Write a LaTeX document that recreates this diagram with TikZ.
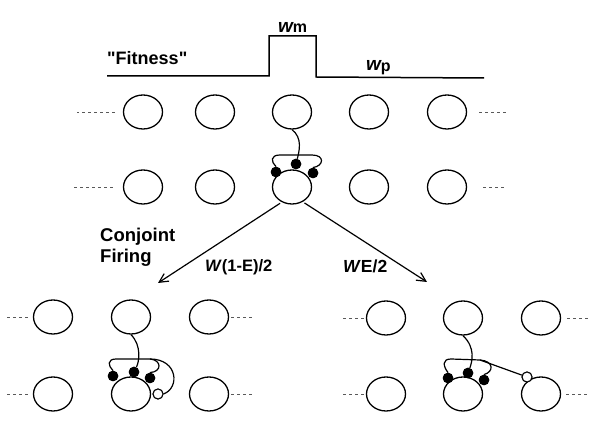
\documentclass[tikz,border=0pt]{standalone}
\usepackage{fontspec}
\setmainfont{Liberation Sans}
\newfontfamily\qfont{Liberation Sans}
\usetikzlibrary{shapes.geometric,arrows.meta}
\begin{document}
\begin{tikzpicture}[x=1pt,y=-1pt,
 cell/.style={draw,ellipse,line width=1.3pt,minimum width=39pt,minimum height=34pt,inner sep=0pt},
 bdot/.style={circle,fill=black,minimum size=10.5pt,inner sep=0pt},
 wdot/.style={circle,draw,fill=white,line width=1pt,minimum size=10pt,inner sep=0pt},
 wire/.style={line width=1.2pt},
 dots/.style={line width=0.9pt,dash pattern=on 3pt off 3pt,black!65},
 arr/.style={line width=1.2pt,-{Straight Barb[length=9pt,width=9pt,line width=1.2pt]}},
 lbl/.style={font=\fontsize{18}{20}\selectfont\bfseries,inner sep=0pt,anchor=base west}]
\useasboundingbox (0,0) rectangle (595,427);

% fitness profile
\draw[line width=1.5pt] (107,76) -- (269,76) -- (269,36) -- (316,36) -- (316,77) -- (484,78);
\node[lbl] (fit) at (107,65) {{\qfont\bfseries\char34}Fitness{\qfont\bfseries\char34}};
\node[lbl] (wm) at (278,33) {\fontsize{19}{20}\selectfont\itshape w\fontsize{16}{20}\selectfont\upshape m};
\node[lbl] (wp) at (366,71) {\fontsize{19}{20}\selectfont\itshape w\fontsize{16}{20}\selectfont\upshape\raisebox{-1pt}{p}};

% top rows
\foreach \i/\x in {1/143,2/215,3/292,4/369,5/447}{
  \node[cell] (t\i) at (\x,112) {};
  \node[cell] (m\i) at (\x,187) {};
}
\draw[dots] (t1.west) ++(-8,0) -- ++(-38,0);
\draw[dots] (t5.east) ++(12,0) -- ++(27,0);
\draw[dots] (m1.west) ++(-10,0) -- ++(-39,0);
\draw[dots] (m5.east) ++(16,0) -- ++(23,0);

% middle assembly
\node[bdot] (mL) at (276,172) {};
\node[bdot] (mM) at (296,164) {};
\node[bdot] (mR) at (313,173) {};
\draw[wire] (t3.south) .. controls (303,138) and (299,152) .. (mM);
\draw[wire] (mL.north) .. controls (271,162) and (270,155) .. (280,155) -- (312,155) .. controls (325,155) and (324,166) .. (mR.north);
\node[bdot] at (mL) {};
\node[bdot] at (mM) {};
\node[bdot] at (mR) {};

% arrows
\coordinate (eL) at (158,283);
\coordinate (eR) at (427,282);
\draw[arr,shorten <=2pt] (m3.236) -- (eL);
\draw[arr,shorten <=2pt] (m3.306) -- (eR);
\node[lbl,font=\fontsize{18.5}{20}\selectfont\bfseries] (cj) at (100,242) {Conjoint};
\node[lbl,font=\fontsize{18.5}{20}\selectfont\bfseries] (fr) at (100,263) {Firing};
\node[lbl,font=\fontsize{16.5}{20}\selectfont\bfseries] (w1) at (205,272) {\textit{W}(1-E)/2};
\node[lbl,font=\fontsize{17.5}{20}\selectfont\bfseries] (w2) at (343,273) {\textit{W}E/2};

% bottom left group
\foreach \i/\x in {1/53,2/131,3/209}{
  \node[cell] (a\i) at (\x,317) {};
  \node[cell] (b\i) at (\x,394) {};
}
\draw[dots] (a1.west) ++(-5,0) -- ++(-21,0);
\draw[dots] (a3.east) ++(2,0) -- ++(22,0);
\draw[dots] (b1.west) ++(-5,0) -- ++(-21,0);
\draw[dots] (b3.east) ++(2,0) -- ++(22,0);
\node[bdot] (aL) at (113,376) {};
\node[bdot] (aM) at (134,372) {};
\node[bdot] (aR) at (150,378) {};
\node[wdot] (aW) at (158,394) {};
\draw[wire] (a2.south) .. controls (142,346) and (139,362) .. (aM);
\draw[wire] (aL.north) .. controls (108,366) and (107,359) .. (116,359) -- (150,359) .. controls (162,360) and (162,372) .. (aR.north);
\draw[wire] (150,359) .. controls (178,359) and (180,388) .. (aW.east);
\node[bdot] at (aL) {};
\node[bdot] at (aM) {};
\node[bdot] at (aR) {};
\node[wdot] at (aW) {};

% bottom right group
\foreach \i/\x in {1/386,2/463,3/541}{
  \node[cell] (c\i) at (\x,318) {};
  \node[cell] (d\i) at (\x,394) {};
}
\draw[dots] (c1.west) ++(-2,0) -- ++(-22,0);
\draw[dots] (c3.east) ++(6,0) -- ++(21,0);
\draw[dots] (d1.west) ++(-2,0) -- ++(-23,0);
\draw[dots] (d3.east) ++(5,0) -- ++(21,0);
\node[bdot] (dL) at (448,378) {};
\node[bdot] (dM) at (468,373) {};
\node[bdot] (dR) at (484,380) {};
\node[wdot] (dW) at (527,377) {};
\coordinate (br) at (480,360);
\draw[wire] (c2.south) .. controls (476,348) and (472,362) .. (dM);
\draw[wire] (dL.north) .. controls (443,366) and (442,359) .. (451,359) -- (br) .. controls (494,361) and (494,372) .. (dR.north);
\draw[wire] (br) -- (dW);
\node[bdot] at (dL) {};
\node[bdot] at (dM) {};
\node[bdot] at (dR) {};
\node[wdot] at (dW) {};
\end{tikzpicture}
\end{document}
